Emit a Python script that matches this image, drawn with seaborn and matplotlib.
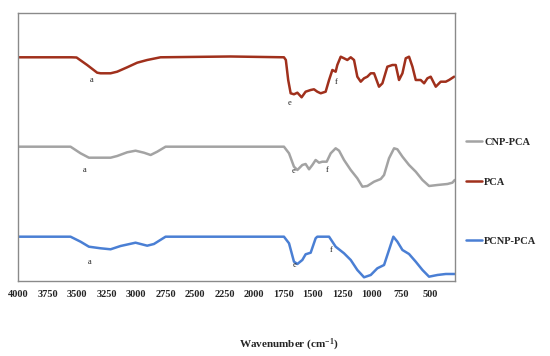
import numpy as np
import pandas as pd
import matplotlib
matplotlib.use("Agg")
import matplotlib.pyplot as plt
import seaborn as sns
from matplotlib.lines import Line2D

# FTIR spectra, values (arbitrary transmittance units)
pca_wn = [4000, 3550, 3507, 3417, 3332, 3303, 3218, 3162, 3077, 2992, 2907, 2794,
          2200, 1746, 1730, 1710, 1689, 1661, 1632, 1596, 1562, 1519, 1491, 1463,
          1434, 1392, 1363, 1335, 1307, 1293, 1264, 1236, 1208, 1179, 1151, 1123,
          1094, 1066, 1038, 1009, 981, 939, 910, 868, 825, 797, 769, 740, 712,
          684, 655, 627, 585, 556, 528, 500, 457, 415, 372, 344, 301]
pca_t = [242.7, 242.7, 242.5, 235.0, 227.3, 226.7, 226.7, 228.3, 232.7, 237.3, 240.0, 242.7,
         243.5, 242.7, 240.0, 220.0, 206.7, 205.7, 207.3, 202.7, 208.3, 210.0, 210.7, 208.3,
         206.7, 208.3, 220.0, 230.0, 228.3, 235.0, 243.3, 241.7, 240.0, 242.7, 240.0, 223.3,
         218.3, 221.7, 223.3, 226.7, 226.7, 213.3, 216.7, 233.3, 235.0, 235.0, 220.0, 226.7, 241.7,
         243.3, 233.3, 220.0, 220.0, 216.7, 221.7, 223.3, 213.3, 218.3, 218.3, 220.0, 223.3]

cnp_wn = [4000, 3558, 3473, 3402, 3303, 3218, 3162, 3077, 3006, 2935, 2878, 2822, 2751,
          1746, 1703, 1661, 1632, 1590, 1562, 1533, 1505, 1477, 1448, 1420, 1383, 1349,
          1307, 1278, 1236, 1179, 1123, 1080, 1038, 981, 924, 896, 854, 811, 783, 740,
          684, 627, 570, 514, 443, 358, 316, 296]
cnp_t = [153.3, 153.3, 146.7, 142.3, 142.3, 142.3, 144.0, 147.7, 149.3, 147.3, 145.0, 148.3, 153.3,
         153.3, 146.7, 133.3, 130.0, 135.0, 136.0, 130.7, 135.0, 140.0, 137.3, 138.3, 138.3, 146.7,
         151.7, 149.3, 140.0, 130.0, 121.7, 113.3, 114.0, 118.3, 121.0, 125.0, 141.7, 151.7, 150.7, 143.3,
         135.0, 128.3, 120.0, 114.0, 115.0, 116.0, 117.3, 120.0]

pcnp_wn = [4000, 3558, 3473, 3402, 3303, 3218, 3133, 3006, 2907, 2850, 2751, 1746, 1703,
           1661, 1632, 1590, 1562, 1519, 1477, 1463, 1363, 1307, 1236, 1179, 1123, 1066,
           1009, 953, 896, 854, 817, 783, 740, 684, 627, 570, 514, 443, 372, 296]
pcnp_t = [63.3, 63.3, 58.3, 53.3, 51.7, 50.7, 54.0, 57.3, 54.3, 56.0, 63.3, 63.3, 56.7,
          38.3, 36.0, 40.0, 45.7, 47.3, 61.7, 63.3, 63.3, 53.3, 46.7, 40.0, 30.0, 22.7,
          25.0, 31.7, 35.0, 50.0, 63.3, 58.3, 50.0, 46.0, 38.3, 30.0, 23.3, 25.0, 26.0, 26.0]

series = ["PCNP-PCA", "CNP-PCA", "PCA"]
colors = {"PCNP-PCA": "#4a7fd4", "CNP-PCA": "#a3a3a3", "PCA": "#a0301c"}

# peak labels (wavenumber, value, letter) for each curve
marks = [(3380, 220, "a"), (1698, 197, "e"), (1307, 218, "f"),
         (3439, 130, "a"), (1664, 129, "e"), (1383, 130, "f"),
         (3397, 38, "a"), (1655, 35, "e"), (1341, 50, "f")]

df = pd.concat([
    pd.DataFrame({"wn": pcnp_wn, "T": pcnp_t, "sample": "PCNP-PCA"}),
    pd.DataFrame({"wn": cnp_wn, "T": cnp_t, "sample": "CNP-PCA"}),
    pd.DataFrame({"wn": pca_wn, "T": pca_t, "sample": "PCA"}),
])

sns.set_style("white")
serif = ["Liberation Serif", "DejaVu Serif"]
plt.rcParams["mathtext.fontset"] = "custom"
plt.rcParams["mathtext.rm"] = "Liberation Serif:bold"
plt.rcParams["mathtext.it"] = "Liberation Serif:bold"
plt.rcParams["mathtext.bf"] = "Liberation Serif:bold"

fig = plt.figure(figsize=(5.5, 3.56), dpi=100)
ax = fig.add_axes([0.0336, 0.2107, 0.7934, 0.7528])

for s in series:
    d = df[df["sample"] == s]
    sns.lineplot(data=d, x="wn", y="T", ax=ax, color=colors[s], lw=1.8,
                 sort=False, estimator=None, legend=False,
                 solid_joinstyle="round", solid_capstyle="round")

for w, t, lab in marks:
    ax.text(w, t, lab, fontsize=6, family=serif, ha="center", va="center", color="#222222")

ax.set_xlim(4000, 295)
ax.set_ylim(19, 287)
ax.set_xticks([4000, 3750, 3500, 3250, 3000, 2750, 2500, 2250, 2000, 1750, 1500, 1250, 1000, 750, 500])
ax.set_yticks([])
ax.set_xlabel("")
ax.set_ylabel("")
ax.tick_params(axis="x", length=0, pad=6.5)
for lab in ax.get_xticklabels():
    lab.set_fontfamily(serif)
    lab.set_fontweight("bold")
    lab.set_fontsize(7.5)
for sp in ax.spines.values():
    sp.set_color("#8a8a8a")
    sp.set_linewidth(1.0)

fig.text(0.525, 0.031, "Wavenumber (cm$^{-1}$)", family=serif, fontweight="bold",
         fontsize=8, ha="center", va="center")

# legend entries, placed one by one like the original
for s, ypix in [("CNP-PCA", 142), ("PCA", 182), ("PCNP-PCA", 241)]:
    h = Line2D([], [], color=colors[s], lw=1.8)
    fig.legend([h], [s], loc="center left", bbox_to_anchor=(466 / 550, 1 - ypix / 356),
               frameon=False, borderpad=0, borderaxespad=0, handlelength=1.5,
               handletextpad=0.25, prop={"family": serif, "weight": "bold", "size": 7.5})

fig.savefig("out.png", dpi=100)
